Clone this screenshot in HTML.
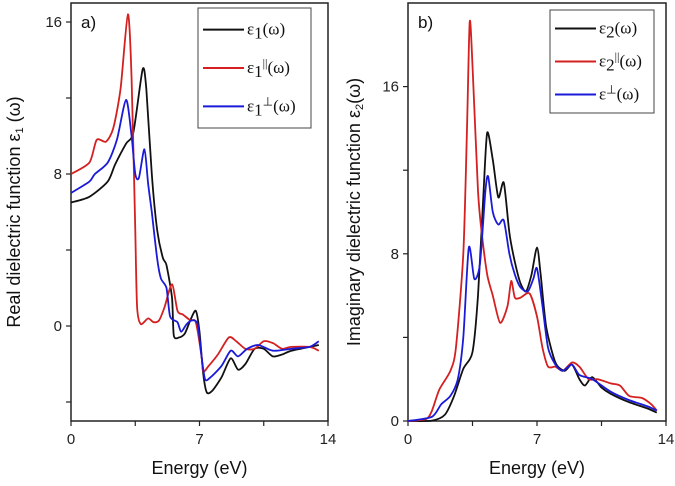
<!DOCTYPE html>
<html><head><meta charset="utf-8"><style>
body{margin:0;background:#fff;}
svg{display:block;font-family:"Liberation Sans",sans-serif;}
.tk{font-size:15px;fill:#222;}
.ttl{font-size:18px;fill:#111;}
.lab{font-size:17px;fill:#111;}
.leg{font-family:"Liberation Serif",serif;font-size:17px;fill:#111;}
</style></head><body>
<svg id="c" width="675" height="486" viewBox="0 0 675 486"></svg>
<script>
const xTicksA=[0,7,14];
const yTicksA=[16,8,0];
const yTicksB=[16,8,0];
const eBlackA=[0,1,2,2.4,3,3.4,3.9,4.1,4.4,4.7,5.0,5.2,5.5,5.6,5.9,6.2,6.5,6.8,7.0,7.2,7.4,7.7,8.2,8.7,9.1,9.5,10,10.5,11,11.5,12,13,13.5];
const vBlackA=[6.5,6.8,7.6,8.5,9.6,10.2,13.5,12.5,8,5,3.6,3.2,1.5,-0.5,-0.6,-0.4,0.3,0.8,-0.3,-2.5,-3.5,-3.4,-2.7,-1.7,-2.3,-2.0,-1.2,-1.2,-1.6,-1.5,-1.3,-1.1,-1.0];
const eRedA=[0,1,1.4,1.9,2.3,2.7,3.1,3.3,3.5,3.6,3.8,4.2,4.5,4.8,5.1,5.5,5.8,6.1,6.5,6.8,7.1,7.2,7.5,8,8.6,9,9.5,10,10.5,11,11.5,12,13,13.5];
const vRedA=[8.0,8.6,9.8,9.7,10.4,12.5,16.4,13,5,1,0.1,0.4,0.2,0.3,1.0,2.2,0.8,0.6,0.3,0.2,-1.5,-2.4,-2.1,-1.5,-0.6,-0.8,-1.2,-1.2,-0.8,-0.9,-1.2,-1.1,-1.1,-1.3];
const eBlueA=[0,1,1.3,2,2.5,3.0,3.3,3.5,3.7,4.0,4.2,4.4,4.7,4.9,5.2,5.4,5.8,6.0,6.3,6.6,6.9,7.1,7.3,7.6,8.2,8.7,9.1,9.6,10.2,11,12,13,13.5];
const vBlueA=[7.0,7.6,8.0,8.6,9.8,11.9,10,8.0,7.8,9.3,7.5,6,3.5,2.5,2.0,0.5,0.2,-0.3,0.1,0.3,0.1,-1.5,-2.8,-2.7,-2.1,-1.3,-1.6,-1.2,-1.0,-1.3,-1.2,-1.1,-0.8];
const eBlackB=[0,1.3,2,2.5,3,3.5,3.8,4.1,4.3,4.6,4.9,5.2,5.5,5.8,6.1,6.4,6.7,7.0,7.2,7.5,8,8.5,8.9,9.3,9.6,10,10.5,11,12,13,13.5];
const vBlackB=[0,0.02,0.3,1.2,2.5,3.3,6,11,13.8,12.5,10.7,11.4,9,7.6,6.6,6.2,7,8.3,7,4.5,2.8,2.4,2.7,2.0,1.7,2.1,1.6,1.3,0.9,0.6,0.4];
const eRedB=[0,1,1.3,1.7,2.3,2.6,3.0,3.2,3.35,3.5,3.8,4.0,4.3,4.6,5.0,5.4,5.6,5.8,6.1,6.6,7.0,7.3,7.6,8,8.4,8.9,9.3,9.8,10.3,11,11.5,12,12.7,13.2,13.5];
const vRedB=[0,0.1,0.5,1.5,2.4,3.5,8,14,19.1,17,11,9,7,6,4.7,5.5,6.7,5.9,5.9,6.1,5,3.5,2.6,2.6,2.4,2.8,2.6,2.0,2.0,1.8,1.7,1.2,1.1,0.8,0.5];
const eBlueB=[0,1.3,1.8,2.3,2.7,3.0,3.3,3.6,3.9,4.2,4.35,4.6,4.9,5.2,5.5,5.8,6.1,6.5,6.8,7.0,7.3,7.6,8,8.4,8.9,9.3,10,11,12,13,13.5];
const vBlueB=[0,0.2,0.8,1.2,2,4,8.3,6.8,7.5,11,11.7,10,9.4,9.6,8,7,6.4,6.2,6.8,7.3,5.5,3.5,2.7,2.4,2.7,2.2,2.0,1.4,1.0,0.7,0.5];

const NS="http://www.w3.org/2000/svg";
const svg=document.getElementById('c');
function mk(t,a,p){const e=document.createElementNS(NS,t);for(const k in a)e.setAttribute(k,a[k]);(p||svg).appendChild(e);return e;}
function smooth(pts){
  let d='M'+pts[0][0].toFixed(1)+','+pts[0][1].toFixed(1);
  for(let i=0;i<pts.length-1;i++){
    const p0=pts[Math.max(0,i-1)],p1=pts[i],p2=pts[i+1],p3=pts[Math.min(pts.length-1,i+2)];
    const k=1/8;
    const c1=[p1[0]+(p2[0]-p0[0])*k,p1[1]+(p2[1]-p0[1])*k];
    const c2=[p2[0]-(p3[0]-p1[0])*k,p2[1]-(p3[1]-p1[1])*k];
    d+='C'+c1.map(v=>v.toFixed(1)).join(',')+' '+c2.map(v=>v.toFixed(1)).join(',')+' '+p2[0].toFixed(1)+','+p2[1].toFixed(1);
  }
  return d;
}
function panel(P){
  const g=mk('g',{});
  
  
  const X=v=>P.x0+(v-0)/14*(P.x1-P.x0);
  const Y=v=>P.yb+(v-P.ymin)/(P.ymax-P.ymin)*(P.yt-P.yb);
  const box=mk('rect',{x:P.x0,y:P.yt,width:P.x1-P.x0,height:P.yb-P.yt,fill:'none',stroke:'#222','stroke-width':1.5},g);
  
  
  [0,3.5,7,10.5,14].forEach(t=>mk('line',{x1:X(t),x2:X(t),y1:P.yb,y2:P.yb+5,stroke:'#222','stroke-width':1.2},g));
  xTicksA.forEach(t=>{const e=mk('text',{x:X(t),y:P.yb+23,'text-anchor':'middle',class:'tk'},g);e.textContent=t;
    });
  P.minor.forEach(t=>mk('line',{x1:P.x0-5,x2:P.x0,y1:Y(t),y2:Y(t),stroke:'#222','stroke-width':1.2},g));
  P.yt2.forEach(t=>{const e=mk('text',{x:P.x0-9,y:Y(t)+5,'text-anchor':'end',class:'tk'},g);e.textContent=t;
    });
  const xt=mk('text',{x:(P.x0+P.x1)/2,y:474,'text-anchor':'middle',class:'ttl'},g);xt.textContent='Energy (eV)';
  
  const yt=mk('text',{x:0,y:0,'text-anchor':'middle',class:'ttl',transform:`translate(${P.ytx},${(P.yt+P.yb)/2}) rotate(-90)`},g);
  yt.innerHTML=P.ytitle;
  
  P.series.forEach(s=>{
    const d=smooth(s.e.map((v,i)=>[X(v),Y(s.v[i])]));
    const p=mk('path',{d:d,fill:'none',stroke:s.c,'stroke-width':1.8,'stroke-linejoin':'round'},g);
    
  });
  const lb=mk('rect',{x:P.lx,y:P.ly,width:P.lw,height:P.lh,fill:'#fff',stroke:'#444','stroke-width':1},g);
  
  P.series.forEach((s,i)=>{
    const yy=P.ly+P.lh*(0.18+i*0.32);
    mk('line',{x1:P.lx+5,x2:P.lx+46,y1:yy,y2:yy,stroke:s.c,'stroke-width':2},g);
    const t=mk('text',{x:P.lx+49,y:yy+5,class:'leg'},g);t.innerHTML=s.l;
    
  });
  const lab=mk('text',{x:P.x0+10,y:28,class:'lab'},g);lab.textContent=P.tag;
  
}
panel({id:'real',x0:71,x1:328,yt:3,yb:421,ymin:-5,ymax:17,minor:[16,12,8,4,0,-4],yt2:yTicksA,ytx:20,
  ytitle:'Real dielectric function ε<tspan font-size="11" dy="3">1</tspan><tspan dy="-3"> (ω)</tspan>',tag:'a)',
  lx:198,ly:8,lw:113,lh:120,
  series:[{n:'eps1-black-line',c:'#111',e:eBlackA,v:vBlackA,l:'ε<tspan dy="4">1</tspan><tspan dy="-4">(ω)</tspan>'},
          {n:'eps1-parallel-red-line',c:'#d42020',e:eRedA,v:vRedA,l:'ε<tspan dy="4">1</tspan><tspan dy="-10" font-size="12">||</tspan><tspan dy="6">(ω)</tspan>'},
          {n:'eps1-perp-blue-line',c:'#1a1ad8',e:eBlueA,v:vBlueA,l:'ε<tspan dy="4">1</tspan><tspan dy="-10" font-size="12">⊥</tspan><tspan dy="6">(ω)</tspan>'}]});
panel({id:'imag',x0:408,x1:666,yt:3,yb:421,ymin:0,ymax:20,minor:[0,4,8,12,16],yt2:yTicksB,ytx:360,
  ytitle:'Imaginary dielectric function ε<tspan font-size="11" dy="3">2</tspan><tspan dy="-3">(ω)</tspan>',tag:'b)',
  lx:550,ly:10,lw:104,lh:103,
  series:[{n:'eps2-black-line',c:'#111',e:eBlackB,v:vBlackB,l:'ε<tspan dy="4">2</tspan><tspan dy="-4">(ω)</tspan>'},
          {n:'eps2-parallel-red-line',c:'#d42020',e:eRedB,v:vRedB,l:'ε<tspan dy="4">2</tspan><tspan dy="-10" font-size="12">||</tspan><tspan dy="6">(ω)</tspan>'},
          {n:'eps2-perp-blue-line',c:'#1a1ad8',e:eBlueB,v:vBlueB,l:'ε<tspan dy="-6" font-size="12">⊥</tspan><tspan dy="6">(ω)</tspan>'}]});
</script>
</body></html>
